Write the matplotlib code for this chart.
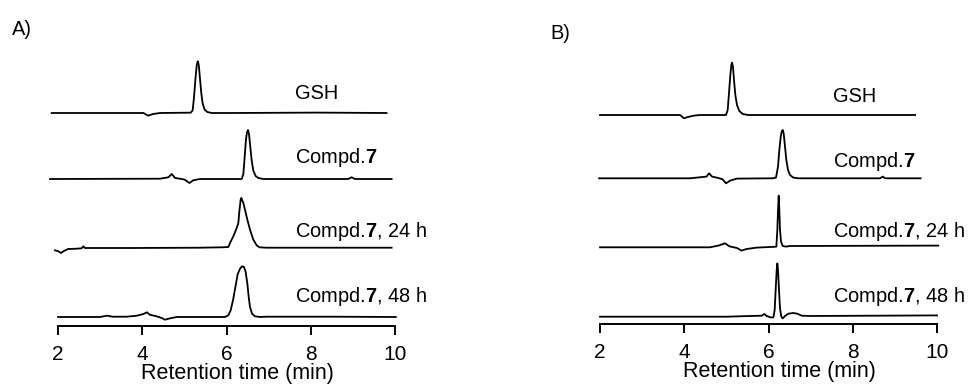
import matplotlib
matplotlib.use("Agg")
import matplotlib.pyplot as plt

plt.rcParams['font.family'] = ['Liberation Sans', 'DejaVu Sans']
plt.rcParams['mathtext.fontset'] = 'custom'
plt.rcParams['mathtext.rm'] = 'Liberation Sans'
plt.rcParams['mathtext.bf'] = 'Liberation Sans:bold'

# ---- labels -------------------------------------------------------------
panel_names = ["A)", "B)"]
sample_labels = ["GSH", "Compd.$\\mathbf{7}$",
                 "Compd.$\\mathbf{7}$, 24 h", "Compd.$\\mathbf{7}$, 48 h"]
x_ticks = [2, 4, 6, 8, 10]
x_title = "Retention time (min)"

# ---- panel A chromatograms: retention time (min) / detector signal (a.u.) ----
a_gsh_t = [1.85, 4.03, 4.09, 4.14, 4.20, 4.26, 4.42, 5.06, 5.150, 5.197, 5.229,
           5.260, 5.293, 5.316, 5.340, 5.371, 5.403, 5.435, 5.482, 5.545, 5.648,
           6.16, 8.14, 9.80]
a_gsh_s = [0, 0, -1.5, -2.7, -1.8, -1, 0, 0.3, 0.3, 2.7, 16, 32.7, 47.7, 51.7,
           48.7, 34.3, 19.3, 9.3, 3.3, 1, 0, 0, 0.4, 0]

a_c7_t = [1.81, 4.42, 4.62, 4.70, 4.78, 4.94, 5.01, 5.12, 5.21, 5.37, 6.30,
          6.360, 6.400, 6.431, 6.463, 6.487, 6.510, 6.534, 6.566, 6.598, 6.637,
          6.692, 6.755, 6.874, 8.89, 8.97, 9.05, 9.92]
a_c7_s = [0, 0.3, 1.7, 5, 1, 0, -0.7, -4, -1.3, 0, 0, 0, 5, 21.7, 40, 46.7, 49,
          45, 31.7, 18.3, 8.3, 3, 1, 0, 0, 1.7, 0, 0]

a_c7_24_t = [1.93, 2.01, 2.07, 2.14, 2.24, 2.44, 2.56, 2.60, 2.64, 3.79, 5.37,
             5.90, 6.043, 6.083, 6.162, 6.242, 6.281, 6.305, 6.336, 6.352, 6.400,
             6.439, 6.495, 6.558, 6.637, 6.716, 6.779, 6.95, 9.92]
a_c7_24_s = [-2.3, -3.3, -5, -3, -1, -0.7, -0.3, 1.7, 0, 0, 0.3, 0.7, 1, 5, 11.7,
             20, 25, 36.7, 48.3, 50, 45, 38.3, 28.3, 18.3, 8.3, 2.7, 0.7, 0.3, 0.3]

a_c7_48_t = [2.00, 3.00, 3.16, 3.30, 3.63, 3.87, 4.03, 4.11, 4.18, 4.34, 4.46,
             4.54, 4.66, 4.82, 5.964, 6.043, 6.099, 6.162, 6.218, 6.265, 6.321,
             6.368, 6.416, 6.455, 6.495, 6.527, 6.558, 6.606, 6.677, 6.795, 6.95,
             8.54, 10.02]
a_c7_48_s = [0, 0, 1.3, 0.3, 0.3, 1.3, 3, 4.7, 2.3, 0.7, -1, -2.7, -1.3, 0, 0,
             1.7, 6.7, 18.3, 31.7, 42.7, 48.3, 50.7, 50, 45, 33.3, 20, 10, 3.3,
             0.7, 0, 0.3, 0.3, 0]

# ---- panel B chromatograms ----------------------------------------------
b_gsh_t = [2.00, 3.90, 3.97, 4.00, 4.06, 4.22, 4.37, 4.991, 5.031, 5.062, 5.094,
           5.118, 5.134, 5.157, 5.181, 5.213, 5.252, 5.308, 5.387, 5.522, 9.48]
b_gsh_s = [0, 0, -2.5, -3.3, -2.3, -0.7, 0, 0, 5, 21.7, 40, 50, 52.3, 48.3, 35,
           20, 10, 4, 1, 0, 0]

b_c7_t = [1.98, 4.14, 4.37, 4.53, 4.59, 4.66, 4.81, 4.91, 4.99, 5.09, 5.25, 6.10,
          6.178, 6.226, 6.257, 6.289, 6.313, 6.337, 6.360, 6.392, 6.423, 6.463,
          6.510, 6.589, 6.708, 8.65, 8.71, 8.77, 9.61]
b_c7_s = [0, 0, 1, 1.7, 5, 1.7, 0.3, -1, -5, -2.3, -0.3, 0, 0.7, 11.7, 28.3, 41,
          46.7, 48.3, 45, 31.7, 18.3, 8.3, 3.3, 0.7, 0, 0, 1.7, 0, 0]

b_c7_24_t = [2.00, 4.61, 4.81, 4.97, 5.07, 5.25, 5.36, 5.48, 5.72, 6.04, 6.15,
             6.186, 6.210, 6.226, 6.242, 6.257, 6.273, 6.297, 6.337, 6.415, 6.51,
             10.03]
b_c7_24_s = [0, 0, 1.7, 4, 1, -0.7, -3.3, -1.7, -0.3, 0.3, 0.5, 0.7, 17.3, 37.3,
             51.7, 37.3, 17.3, 5.7, 1.3, 0.7, 1.3, 1.7]

b_c7_48_t = [2.00, 5.00, 5.561, 5.838, 5.901, 5.957, 6.052, 6.115, 6.147, 6.170,
             6.194, 6.210, 6.226, 6.249, 6.273, 6.305, 6.337, 6.392, 6.471, 6.589,
             6.684, 6.787, 6.985, 10.00]
b_c7_48_s = [0, 0, 0.7, 1, 2.7, 0.7, -0.7, -0.7, 6.7, 26.7, 46.7, 53.3, 46.7,
             26.7, 8.3, 0, -1.7, 0.7, 3, 3.7, 3, 1, 0.7, 1.3]

panels = [
    dict(name=panel_names[0],
         traces=[(a_gsh_t, a_gsh_s), (a_c7_t, a_c7_s),
                 (a_c7_24_t, a_c7_24_s), (a_c7_48_t, a_c7_48_s)],
         rect=[58 / 977, 61 / 387, 337 / 977, 276 / 387], ytop=276,
         offsets=[213, 147, 78, 9], label_x=7.63, label_y=[227, 163, 89, 24],
         name_xy=(12 / 977, 1 - 35 / 387)),
    dict(name=panel_names[1],
         traces=[(b_gsh_t, b_gsh_s), (b_c7_t, b_c7_s),
                 (b_c7_24_t, b_c7_24_s), (b_c7_48_t, b_c7_48_s)],
         rect=[600 / 977, 63 / 387, 337 / 977, 274 / 387], ytop=274,
         offsets=[209, 145.7, 76.7, 7.3], label_x=7.53,
         label_y=[222.3, 157.3, 87.3, 22.3],
         name_xy=(550 / 977, 1 - 39 / 387)),
]

fig = plt.figure(figsize=(9.77, 3.87), dpi=100)
fs = 14.4

for p in panels:
    ax = fig.add_axes(p["rect"])
    for (t, s), off, lab, ly in zip(p["traces"], p["offsets"],
                                    sample_labels, p["label_y"]):
        ax.plot(t, [v + off for v in s], color="black", lw=1.3,
                clip_on=False, solid_joinstyle="round")
        ax.text(p["label_x"], ly, lab, fontsize=fs, ha="left", va="baseline",
                color="black")
    ax.set_xlim(2, 10)
    ax.set_ylim(0, p["ytop"])
    for side in ("top", "right", "left"):
        ax.spines[side].set_visible(False)
    ax.spines["bottom"].set_linewidth(1.4)
    ax.set_yticks([])
    ax.set_xticks(x_ticks)
    ax.tick_params(axis="x", direction="out", length=6.5, width=1.4,
                   labelsize=15, pad=7.5)
    ax.set_xlabel(x_title, fontsize=15.5)
    ax.xaxis.set_label_coords(0.533, -0.134)
    ax.patch.set_visible(False)
    fig.text(p["name_xy"][0], p["name_xy"][1], p["name"], fontsize=fs,
             ha="left", va="baseline")

fig.savefig("out.png", dpi=100)
